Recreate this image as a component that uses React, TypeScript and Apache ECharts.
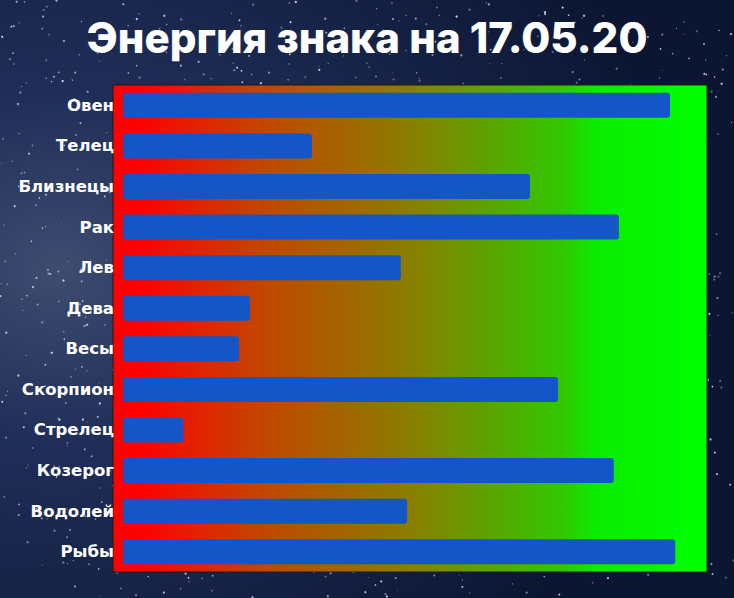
import React, { useEffect, useRef } from "react";
import * as echarts from "echarts";

const categories = ["Овен", "Телец", "Близнецы", "Рак", "Лев", "Дева", "Весы", "Скорпион", "Стрелец", "Козерог", "Водолей", "Рыбы"];
const values = [95.3, 32.9, 70.9, 86.4, 48.4, 22.1, 20.2, 75.8, 10.5, 85.5, 49.5, 96.2];
const titleText = "Энергия знака на 17.05.20";

function makeStars() {
  // deterministic decorative star field (background texture only)
  let s = 12345;
  const rnd = () => {
    s = (s * 1103515245 + 12345) % 2147483648;
    return s / 2147483648;
  };
  const stars: any[] = [];
  for (let i = 0; i < 1400; i++) {
    const x = rnd() * 734;
    const y = rnd() * 598;
    const r = 0.4 + rnd() * 0.8;
    const o = 0.3 + rnd() * 0.6;
    stars.push({
      type: "circle",
      silent: true,
      z: -20,
      shape: { cx: x, cy: y, r },
      style: { fill: `rgba(225,232,255,${o.toFixed(2)})` },
    });
  }
  return stars;
}

export default function App() {
  const ref = useRef<HTMLDivElement>(null);
  useEffect(() => {
    document.body.style.margin = "0";
    const chart = echarts.init(ref.current!, null, { renderer: "svg" });
    chart.setOption({
      animation: false,
      backgroundColor: {
        type: "radial",
        x: 0.08,
        y: 0.45,
        r: 0.85,
        colorStops: [
          { offset: 0, color: "#3e4c70" },
          { offset: 0.35, color: "#1f2e58" },
          { offset: 1, color: "#0c1633" },
        ],
      },
      title: {
        text: titleText,
        left: "center",
        top: 11,
        textStyle: {
          color: "#ffffff",
          fontSize: 42,
          fontWeight: 800,
          fontFamily: "Inter",
        },
      },
      graphic: [
        ...makeStars(),
        {
          type: "rect",
          silent: true,
          z: -5,
          shape: { x: 113, y: 85, width: 594, height: 487 },
          style: {
            fill: {
              type: "linear",
              x: 0,
              y: 0,
              x2: 1,
              y2: 0,
              colorStops: [
                { offset: 0, color: "#ff0000" },
                { offset: 0.04, color: "#ff0000" },
                { offset: 0.25, color: "#c24600" },
                { offset: 0.5, color: "#8a7e00" },
                { offset: 0.76, color: "#30c800" },
                { offset: 0.81, color: "#0aec00" },
                { offset: 1, color: "#00ff00" },
              ],
            },
            stroke: "#1a1a1a",
            lineWidth: 1,
          },
        },
      ],
      grid: { left: 123, right: 37, top: 85, bottom: 26 },
      xAxis: {
        type: "value",
        min: 0,
        max: 100,
        show: false,
      },
      yAxis: {
        type: "category",
        data: categories,
        inverse: true,
        axisLine: { show: false },
        axisTick: { show: false },
        axisLabel: {
          color: "#ffffff",
          fontWeight: "bold",
          fontSize: 16.5,
          fontFamily: "DejaVu Sans",
          margin: 9,
        },
      },
      series: [
        {
          type: "bar",
          data: values,
          barWidth: 25,
          itemStyle: { color: "#1455c8", borderRadius: 3 },
        },
      ],
    });
    return () => chart.dispose();
  }, []);
  return <div ref={ref} style={{ width: 734, height: 598 }} />;
}
